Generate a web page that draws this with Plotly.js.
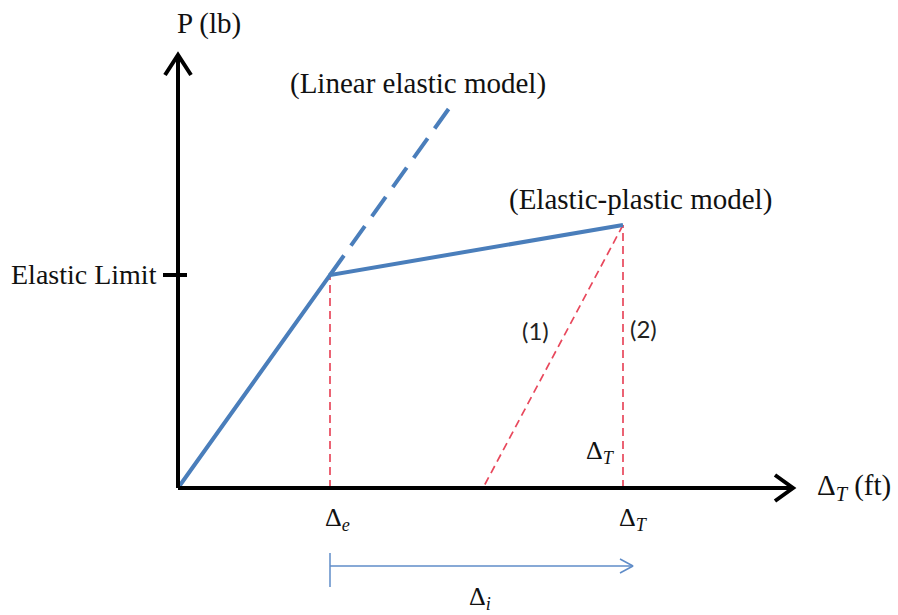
<!DOCTYPE html>
<html>
<head>
<meta charset="utf-8">
<script src="https://cdn.plot.ly/plotly-3.0.1.min.js"></script>
<style>html,body{margin:0;padding:0;background:#fff;}#chart{width:898px;height:615px;}</style>
</head>
<body>
<div id="chart"></div>
<script>
// ---- Data (schematic units: deformation along x, load along y) ----
const elasticPlasticX = [0, 152, 445];      // origin, Δe, ΔT
const elasticPlasticY = [0, 213, 263];      // 0, elastic limit, peak load
const linearElasticX = [152, 277];          // dashed extension of linear model
const linearElasticY = [213, 388];
const unloadX = [445, 305];                 // path (1): unloading
const unloadY = [263, 0];
const deltaE = 152;
const deltaT = 445;
const elasticLimit = 213;
const peakLoad = 263;
const xAxisMax = 615;
const yAxisMax = 433;
const deltaIArrowY = -78;

const tickLabels = {
  yTitle: 'P (lb)',
  xTitle: 'Δ<sub><i>T</i></sub> (ft)',
  elasticLimit: 'Elastic Limit',
  deltaE: 'Δ<sub><i>e</i></sub>',
  deltaT: 'Δ<sub><i>T</i></sub>',
  deltaI: 'Δ<sub><i>i</i></sub>',
  linearModel: '(Linear elastic model)',
  plasticModel: '(Elastic-plastic model)',
  path1: '(1)',
  path2: '(2)'
};

const blue = 'rgb(74,126,187)';
const red = 'rgb(232,72,92)';
const lightBlue = 'rgb(95,140,200)';
const serif = 'Liberation Serif, Times New Roman, serif';
const sans = 'Lato, Liberation Sans, sans-serif';

const traces = [];
function line(x, y, color, width, dash) {
  traces.push({x: x, y: y, mode: 'lines', type: 'scatter', hoverinfo: 'skip',
    line: {color: color, width: width, dash: dash || 'solid'}, showlegend: false});
}

// red dashed guides
line([deltaE, deltaE], [0, elasticLimit], red, 1.7, '8px,5px');
line([deltaT, deltaT], [0, peakLoad], red, 1.7, '8px,5px');
line(unloadX, unloadY, red, 1.7, '8px,5px');

// models
line(elasticPlasticX, elasticPlasticY, blue, 4);
line(linearElasticX, linearElasticY, blue, 4, '24px,12px');

// axes with arrows
line([0, 0], [0, yAxisMax], 'black', 4);
line([-13, 0, 13], [yAxisMax - 20, yAxisMax, yAxisMax - 20], 'black', 4);
line([0, xAxisMax], [0, 0], 'black', 4);
line([xAxisMax - 18, xAxisMax, xAxisMax - 18], [13, 0, -13], 'black', 4);
// elastic limit tick
line([-15, 9], [elasticLimit, elasticLimit], 'black', 4);

// Δi arrow
line([deltaE, deltaT + 10], [deltaIArrowY, deltaIArrowY], lightBlue, 1.5);
line([deltaE, deltaE], [deltaIArrowY + 13, deltaIArrowY - 21], lightBlue, 1.5);
line([deltaT - 3, deltaT + 10, deltaT - 3], [deltaIArrowY + 7, deltaIArrowY, deltaIArrowY - 7], lightBlue, 1.5);

function ann(x, y, text, size, opts) {
  return Object.assign({x: x, y: y, xref: 'x', yref: 'y', text: text, showarrow: false,
    font: {family: serif, size: size, color: '#111'}, xanchor: 'center', yanchor: 'middle'}, opts || {});
}

const annotations = [
  ann(31, 465, tickLabels.yTitle, 29),
  ann(240, 405, tickLabels.linearModel, 29),
  ann(462, 289, tickLabels.plasticModel, 29),
  ann(-19, elasticLimit + 1, tickLabels.elasticLimit, 28, {xanchor: 'right'}),
  ann(357, 158, tickLabels.path1, 24, {font: {family: sans, size: 24, color: '#222'}}),
  ann(465, 160, tickLabels.path2, 24, {font: {family: sans, size: 24, color: '#222'}}),
  ann(422, 36, tickLabels.deltaT, 26),
  ann(159, -31, tickLabels.deltaE, 26),
  ann(455, -31, tickLabels.deltaT, 26),
  ann(302, -110, tickLabels.deltaI, 26),
  ann(676, 1, tickLabels.xTitle, 29)
];

const layout = {
  width: 898, height: 615,
  margin: {l: 0, r: 0, t: 0, b: 0},
  paper_bgcolor: 'white', plot_bgcolor: 'white',
  xaxis: {range: [-178, 720], visible: false, fixedrange: true},
  yaxis: {range: [-127, 488], visible: false, fixedrange: true},
  annotations: annotations,
  showlegend: false
};

Plotly.newPlot('chart', traces, layout, {staticPlot: true, displayModeBar: false});
</script>
</body>
</html>
